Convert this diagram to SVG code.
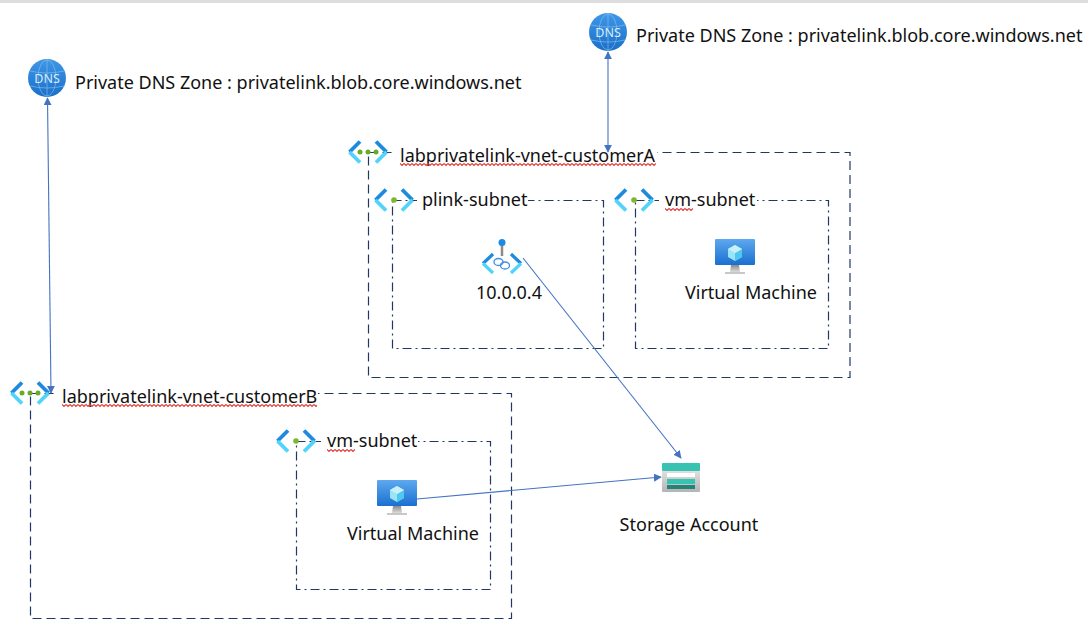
<svg xmlns="http://www.w3.org/2000/svg" width="1088" height="626" viewBox="0 0 1088 626">
<style>
text{font-family:"Noto Sans","Open Sans","Liberation Sans",sans-serif;font-size:18px;fill:#111}
.vnet{fill:none;stroke:#1f3864;stroke-width:1.2;stroke-dasharray:9 5}
.subnet{fill:none;stroke:#1f3864;stroke-width:1.2;stroke-dasharray:9 4 2 4}
.mask{fill:#fff;stroke:none}
.conn{fill:none;stroke:#4472c4;stroke-width:1.1}
.squig{fill:url(#wave);stroke:none}
</style>
<defs>
<pattern id="wave" width="4" height="3" patternUnits="userSpaceOnUse"><path d="M0 .5L2 2.500L4 .5" fill="none" stroke="#e53935" stroke-width="1.100"/></pattern>
<marker id="arrow" viewBox="0 0 10 10" refX="9" refY="5" markerWidth="8" markerHeight="8" orient="auto-start-reverse" markerUnits="userSpaceOnUse"><path d="M0 0L10 5L0 10Z" fill="#4472c4"/></marker>
<linearGradient id="dnsG" x1="0" y1="0" x2="0" y2="1"><stop offset="0" stop-color="#3f97e6"/><stop offset="1" stop-color="#1b6fc9"/></linearGradient>
<linearGradient id="screenG" x1="0" y1="0" x2="0" y2="1"><stop offset="0" stop-color="#5ea9ee"/><stop offset="1" stop-color="#1a6fd0"/></linearGradient>
<linearGradient id="standG" x1="0" y1="0" x2="0" y2="1"><stop offset="0" stop-color="#8a8a8a"/><stop offset="1" stop-color="#dcdcdc"/></linearGradient>
<linearGradient id="boxG" x1="0" y1="0" x2="0" y2="1"><stop offset="0" stop-color="#f0f0f0"/><stop offset="1" stop-color="#b4b4b4"/></linearGradient>
<g id="brackets" fill="none" stroke-width="3.800">
<path d="M-18.500 0L-8 -10.500M18.500 0L8 -10.500" stroke="#1c8ae0"/>
<path d="M-18.500 0L-8 10.500M18.500 0L8 10.500" stroke="#50d4fa"/>
</g>
<g id="vnetIcon"><use href="#brackets"/><circle cx="-8" cy="0" r="2.500" fill="#6aaa26"/><circle cx="0" cy="0" r="2.500" fill="#6aaa26"/><circle cx="8" cy="0" r="2.500" fill="#6aaa26"/></g>
<g id="subnetIcon"><use href="#brackets"/><circle cx="0" cy="0" r="2.800" fill="#7cb82f"/></g>
<g id="dnsIcon">
<circle r="19" fill="url(#dnsG)"/>
<g fill="none" stroke="#8cc4f2" stroke-width=".6"><ellipse rx="9" ry="18"/><path d="M-17 -7Q0 -3 17 -7M-17 8Q0 12 17 8M0 -19V19"/></g>
<text x="0" y="4.500" text-anchor="middle" style="font-size:12.500px;fill:#d8ecfb">DNS</text>
</g>
<g id="vmIcon">
<rect x="-20" y="-20" width="40" height="26" rx="1" fill="url(#screenG)"/>
<path d="M-4 6H4L5 13H-5Z" fill="url(#standG)"/>
<rect x="-10" y="13" width="20" height="2" fill="#c8c8c8"/>
<path d="M0 -14L7 -10V-2L0 2L-7 -2V-10Z" fill="#9be4f7"/>
<path d="M0 -6L7 -10V-2L0 2Z" fill="#50c8ee"/>
<path d="M-7 -10L0 -14L7 -10L0 -6Z" fill="#c4f1fb"/>
</g>
</defs>
<rect width="1088" height="626" fill="#fff"/>
<rect width="1088" height="3" fill="#dedede"/>

<g id="vnet-customerA">
<rect class="vnet" x="368.500" y="152.500" width="481.500" height="225"/>
<rect class="mask" x="392" y="142" width="265" height="20"/>
<use href="#vnetIcon" x="368" y="152"/>
<text x="400" y="162">labprivatelink-vnet-customerA</text>
<rect class="squig" width="256" height="3" transform="translate(400 163)"/>
</g>
<g id="plink-subnet">
<rect class="subnet" x="392.500" y="200.500" width="211" height="148"/>
<rect class="mask" x="417" y="190" width="111" height="20"/>
<use href="#subnetIcon" x="394" y="200"/>
<text x="422" y="206">plink-subnet</text>
</g>
<g id="vm-subnet-A">
<rect class="subnet" x="635.500" y="200.500" width="193" height="148"/>
<rect class="mask" x="659" y="190" width="98" height="20"/>
<use href="#subnetIcon" x="634" y="200"/>
<text x="665" y="206">vm-subnet</text>
<rect class="squig" width="28" height="3" transform="translate(665 208)"/>
</g>
<g id="private-endpoint">
<path d="M502 243V256" stroke="#8a8a8a" stroke-width="2.500"/>
<circle cx="502" cy="242.500" r="3.500" fill="#1c8ae0"/>
<path d="M493 254L483 263.500M511 254L521 263.500" fill="none" stroke="#1c8ae0" stroke-width="3.200"/>
<path d="M483 263.500L493 273M521 263.500L511 273" fill="none" stroke="#50d4fa" stroke-width="3.200"/>
<g fill="none" stroke="#3f8fe0" stroke-width="1.300"><ellipse cx="498.500" cy="262" rx="4.500" ry="3.500"/><ellipse cx="505" cy="265.500" rx="4.500" ry="3.500"/></g>
<text x="509" y="299" text-anchor="middle">10.0.0.4</text>
</g>
<g id="vm-A">
<use href="#vmIcon" x="735" y="259"/>
<text x="751" y="299" text-anchor="middle">Virtual Machine</text>
</g>
<g id="vnet-customerB">
<rect class="vnet" x="30.500" y="393.500" width="481" height="225"/>
<rect class="mask" x="54" y="383" width="264" height="20"/>
<use href="#vnetIcon" x="30" y="393"/>
<text x="62" y="403">labprivatelink-vnet-customerB</text>
<rect class="squig" width="255" height="3" transform="translate(62 404)"/>
</g>
<g id="vm-subnet-B">
<rect class="subnet" x="296.500" y="441.500" width="194" height="148"/>
<rect class="mask" x="321" y="431" width="97" height="20"/>
<use href="#subnetIcon" x="296" y="441"/>
<text x="327" y="447">vm-subnet</text>
<rect class="squig" width="28" height="3" transform="translate(327 449)"/>
</g>
<g id="vm-B">
<use href="#vmIcon" x="397" y="500"/>
<text x="413" y="540" text-anchor="middle">Virtual Machine</text>
</g>
<g id="dns-A">
<use href="#dnsIcon" x="608" y="32"/>
<text x="636" y="42">Private DNS Zone : privatelink.blob.core.windows.net</text>
</g>
<g id="dns-B">
<use href="#dnsIcon" x="47" y="78"/>
<text x="75" y="89">Private DNS Zone : privatelink.blob.core.windows.net</text>
</g>
<g id="storage-account">
<rect x="662" y="463" width="38" height="29" rx="1" fill="url(#boxG)"/>
<rect x="662" y="463" width="38" height="8" rx="1" fill="#37c2b1"/>
<rect x="667" y="473" width="28" height="4" fill="#fff"/>
<rect x="667" y="479" width="28" height="5" fill="#37c2b1"/>
<rect x="667" y="485" width="28" height="4" fill="#258277"/>
<text x="689" y="531" text-anchor="middle">Storage Account</text>
</g>
<g id="connectors">
<path class="conn" d="M608 52V152" marker-start="url(#arrow)" marker-end="url(#arrow)"/>
<path class="conn" d="M47.500 98L51 393" marker-start="url(#arrow)" marker-end="url(#arrow)"/>
<path class="conn" d="M523 258L681 458" marker-end="url(#arrow)"/>
<path class="conn" d="M417 499L661 477" marker-end="url(#arrow)"/>
</g>
</svg>
